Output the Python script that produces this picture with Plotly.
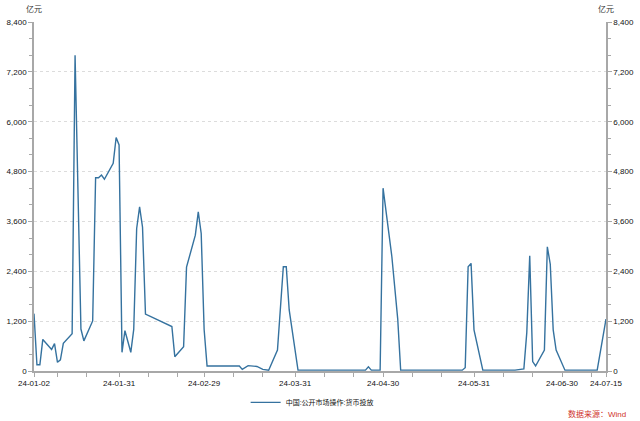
import plotly.graph_objects as go

dates = ["2024-01-02","2024-01-03","2024-01-04","2024-01-05","2024-01-08","2024-01-09","2024-01-10","2024-01-11","2024-01-12",
         "2024-01-15","2024-01-16","2024-01-18","2024-01-19","2024-01-22","2024-01-23","2024-01-24","2024-01-25","2024-01-26",
         "2024-01-29","2024-01-30","2024-01-31","2024-02-01","2024-02-02","2024-02-04","2024-02-05","2024-02-06","2024-02-07",
         "2024-02-08","2024-02-09","2024-02-18","2024-02-19","2024-02-22","2024-02-23","2024-02-26","2024-02-27","2024-02-28",
         "2024-02-29","2024-03-01","2024-03-12","2024-03-13","2024-03-15","2024-03-18","2024-03-20","2024-03-22","2024-03-25",
         "2024-03-27","2024-03-28","2024-03-29","2024-04-01","2024-04-24","2024-04-25","2024-04-26","2024-04-29","2024-04-30",
         "2024-05-03","2024-05-05","2024-05-06","2024-05-27","2024-05-28","2024-05-29","2024-05-30","2024-05-31","2024-06-03",
         "2024-06-14","2024-06-17","2024-06-18","2024-06-19","2024-06-20","2024-06-21","2024-06-24","2024-06-25","2024-06-26",
         "2024-06-27","2024-06-28","2024-07-01","2024-07-12","2024-07-15"]
values = [1380,150,150,760,520,660,210,270,665,
          900,7600,1010,725,1205,4650,4650,4715,4615,
          5000,5620,5440,450,970,450,1000,3430,3950,
          3460,1370,1070,345,585,2500,3270,3830,3310,
          1000,120,120,40,130,110,40,20,505,
          2510,2510,1470,20,20,100,20,20,4400,
          2750,1250,20,20,80,2510,2590,990,20,
          20,50,930,2775,225,120,505,2990,2570,
          990,505,20,20,1250]

series_name = "中国:公开市场操作:货币投放"
unit_label = "亿元"
source_label = "数据来源：Wind"

major_ticks = ["2024-01-02","2024-01-31","2024-02-29","2024-03-31","2024-04-30","2024-05-31","2024-06-30","2024-07-15"]
major_text = ["24-01-02","24-01-31","24-02-29","24-03-31","24-04-30","24-05-31","24-06-30","24-07-15"]
minor_ticks = ["2024-01-10","2024-01-20","2024-02-10","2024-02-20","2024-03-10","2024-03-20","2024-04-10","2024-04-20",
               "2024-05-10","2024-05-20","2024-06-10","2024-06-20","2024-07-10"]
y_ticks = [0,1200,2400,3600,4800,6000,7200,8400]

FONT = "Liberation Sans, Noto Sans CJK SC, sans-serif"
LINE = "#35729f"
AXIS = "#a8a8a8"
TXT = "#111"

fig = go.Figure()
fig.add_trace(go.Scatter(x=dates, y=values, mode="lines", name=series_name,
                         line=dict(color=LINE, width=1.4)))
fig.add_trace(go.Scatter(x=dates, y=values, mode="lines", yaxis="y2", showlegend=False,
                         hoverinfo="skip", line=dict(color="rgba(0,0,0,0)", width=0)))

yax = dict(range=[0, 8400], tickvals=y_ticks, tickformat=",d", showgrid=True,
           gridcolor="#dcdcdc", griddash="dot", gridwidth=1, zeroline=False,
           showline=True, linecolor=AXIS, linewidth=1.5, ticks="outside", ticklen=4,
           tickcolor=AXIS, tickfont=dict(size=8, color=TXT, family=FONT),
           minor=dict(dtick=400, ticks="outside", ticklen=3, tickcolor=AXIS, showgrid=False),
           fixedrange=True, automargin=False)

fig.update_layout(
    width=640, height=421,
    margin=dict(l=34, r=34, t=22, b=50, autoexpand=False),
    paper_bgcolor="white", plot_bgcolor="white",
    font=dict(family=FONT, size=8, color=TXT),
    xaxis=dict(type="date", range=["2024-01-02", "2024-07-15"], tickvals=major_ticks, ticktext=major_text,
               showgrid=False, zeroline=False, showline=True, linecolor=AXIS, linewidth=1.5,
               ticks="outside", ticklen=4, tickcolor=AXIS, automargin=False, fixedrange=True,
               tickfont=dict(size=8, color=TXT, family=FONT),
               minor=dict(tickvals=minor_ticks, ticks="outside", ticklen=4, tickcolor=AXIS, showgrid=False)),
    yaxis=yax,
    yaxis2=dict(yax, overlaying="y", side="right", showgrid=False),
    showlegend=True,
    legend=dict(orientation="h", x=0.37, xanchor="left", y=-0.09, yanchor="middle",
                font=dict(size=7, color=TXT, family=FONT), itemwidth=30, bgcolor="rgba(0,0,0,0)"),
    annotations=[
        dict(text=unit_label, xref="paper", yref="paper", x=0, y=1, xanchor="center", yanchor="bottom",
             yshift=6, showarrow=False, font=dict(size=8, color="#333", family=FONT)),
        dict(text=unit_label, xref="paper", yref="paper", x=1, y=1, xanchor="center", yanchor="bottom",
             yshift=6, showarrow=False, font=dict(size=8, color="#333", family=FONT)),
        dict(text=source_label, xref="paper", yref="paper", x=1, y=0, xanchor="right", yanchor="middle",
             xshift=22, yshift=-43, showarrow=False, font=dict(size=8, color="#d0342c", family=FONT)),
    ],
)

fig.write_html("out.html", config={"displayModeBar": False},
               post_script="document.body.style.margin='0px';")
